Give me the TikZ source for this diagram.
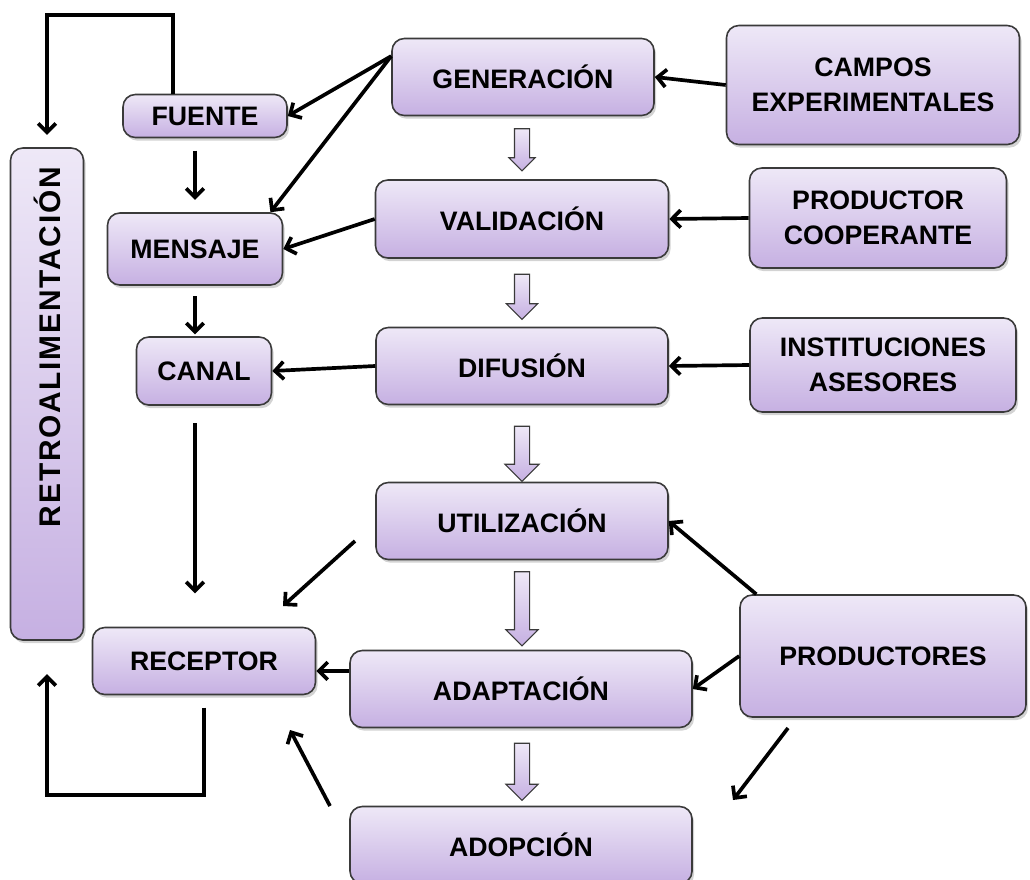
\documentclass[tikz,border=0pt]{standalone}
\usepackage{fontspec}
\setmainfont{Liberation Sans}
\usetikzlibrary{arrows.meta}
\usetikzlibrary{shadows}
\usetikzlibrary{shapes.arrows}
\definecolor{lilatop}{HTML}{EEE8F7}
\definecolor{lilabot}{HTML}{C6B0E2}
\definecolor{borde}{HTML}{3A3A3A}
\tikzset{
    caja/.style 2 args={draw=borde, line width=0.9pt, rounded corners=7pt,
        top color=lilatop, bottom color=lilabot,
        drop shadow={opacity=0.35, shadow xshift=1.2pt, shadow yshift=-1.8pt},
        minimum width=#1*0.02cm, minimum height=#2*0.02cm, inner sep=0pt,
        align=center, font=\fontsize{15.2}{19.8}\selectfont\bfseries},
    hueca/.style 2 args={single arrow, shape border rotate=270, draw=borde,
        line width=0.6pt, top color=lilatop, bottom color=lilabot,
        minimum height=#1*0.02cm, minimum width=#2*0.02cm, inner sep=0.14cm,
        single arrow head extend=(#2-14)*0.01cm, single arrow tip angle=90},
    flecha/.style={line width=2.1pt, -{Straight Barb[length=5pt,width=10pt]}}
}
\begin{document}
\begin{tikzpicture}[x=0.02cm,y=-0.02cm]
    \useasboundingbox (0,0) rectangle (1030,879);
    % cajas
    \node[caja={262}{77}] (gen) at (523,77) {GENERACIÓN};
    \node[caja={293}{119}] (campos) at (873,85) {CAMPOS\\EXPERIMENTALES};
    \node[caja={164}{43}] (fuente) at (205,116) {FUENTE};
    \node[caja={293}{78}] (val) at (522,219) {VALIDACIÓN};
    \node[caja={257}{100}] (prod) at (878,218) {PRODUCTOR\\COOPERANTE};
    \node[caja={175}{72}] (mensaje) at (195,249) {MENSAJE};
    \node[caja={292}{77}] (dif) at (522,366) {DIFUSIÓN};
    \node[caja={266}{94}] (inst) at (883,365) {INSTITUCIONES\\ASESORES};
    \node[caja={135}{68}] (canal) at (204,371) {CANAL};
    \node[caja={292}{77}] (util) at (522,521) {UTILIZACIÓN};
    \node[caja={73}{492}] (retro) at (47,394)
        {\rotatebox{90}{\hspace*{1.88cm}\fontsize{17}{20}\selectfont\addfontfeature{LetterSpace=6}RETROALIMENTACIÓN}};
    \node[caja={223}{67}] (rec) at (204,661) {RECEPTOR};
    \node[caja={342}{77}] (adapt) at (521,689) {ADAPTACIÓN};
    \node[caja={286}{122}] (prods) at (883,656) {PRODUCTORES};
    \node[caja={342}{77}] (adop) at (521,845) {ADOPCIÓN};
    % flechas huecas
    \node[hueca={42}{25}] (h1) at (522,146) {};
    \node[hueca={45}{30}] (h2) at (522,293) {};
    \node[hueca={55}{33}] (h3) at (522,450) {};
    \node[hueca={74}{31}] (h4) at (522,605) {};
    \node[hueca={57}{31}] (h5) at (522,768) {};
    % conectores
    \draw[flecha] (campos.west) -- (gen.east);
    \draw[flecha] (gen.171) -- (fuente.east);
    \draw[flecha] (gen.171) -- (mensaje.26);
    \draw[flecha, shorten <=7pt, shorten >=7pt] (fuente.south -| mensaje.south) -- (mensaje.north);
    \draw[flecha, shorten <=6pt, shorten >=1pt] (mensaje.south) -- (mensaje.south |- canal.north);
    \draw[flecha, shorten <=10pt, shorten >=19pt] (canal.south -| mensaje.south) -- (mensaje.south |- rec.north);
    \draw[flecha] (prod.west) -- (val.east);
    \draw[flecha] (val.west) -- (mensaje.east);
    \draw[flecha] (inst.west) -- (dif.east);
    \draw[flecha] (dif.west) -- (canal.east);
    \coordinate (u1) at (355,541);
    \coordinate (u2) at (283,606);
    \draw[flecha] (u1) -- (u2);
    \draw[flecha] (prods.154) -- (util.east);
    \draw[flecha] (prods.west) -- (adapt.east);
    \draw[flecha] (adapt.174) -- (adapt.174 -| rec.east);
    \coordinate (p1) at (788,728);
    \coordinate (p2) at (733,800);
    \draw[flecha] (p1) -- (p2);
    \coordinate (a1) at (330,806);
    \coordinate (a2) at (290,730);
    \draw[flecha] (a1) -- (a2);
    % retroalimentacion
    \coordinate (r1) at (173,15);
    \coordinate (r2) at (204,795);
    \draw[flecha, shorten >=7pt] (fuente.north -| r1) -- (r1) -| (retro.north);
    \draw[flecha, shorten <=7pt, shorten >=19pt] (rec.south) -- (r2) -| (retro.south);
\end{tikzpicture}
\end{document}
